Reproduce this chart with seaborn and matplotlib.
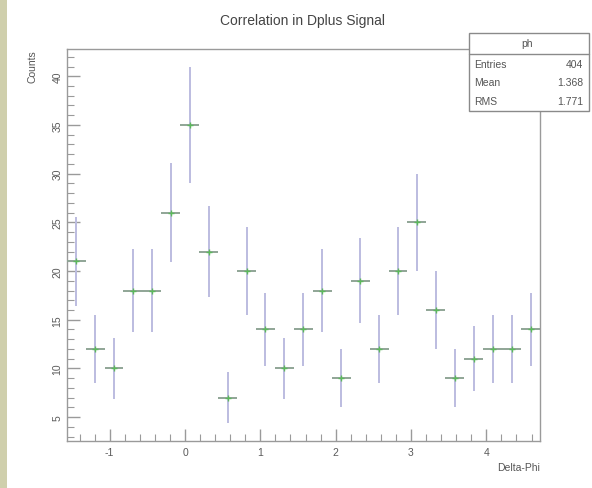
import numpy as np
import pandas as pd
import matplotlib
matplotlib.use("Agg")
import matplotlib.pyplot as plt
from matplotlib.patches import Rectangle
from matplotlib.ticker import MultipleLocator
import seaborn as sns

# ---- data ----
counts = [21, 12, 10, 18, 18, 26, 35, 22, 7, 20, 14, 10, 14,
          18, 9, 19, 12, 20, 25, 16, 9, 11, 12, 12, 14]
x_low, x_high = -np.pi / 2, 3 * np.pi / 2
title = "Correlation in Dplus Signal"
xlabel = "Delta-Phi"
ylabel = "Counts"
stat_name = "ph"
stat_rows = [("Entries", "404"), ("Mean", "1.368"), ("RMS", "1.771")]
x_ticks = [-1, 0, 1, 2, 3, 4]
y_ticks = [5, 10, 15, 20, 25, 30, 35, 40]

sns.set_style("white")
plt.rcParams['font.family'] = ['Liberation Sans Narrow', 'Liberation Sans', 'DejaVu Sans']

edges = np.linspace(x_low, x_high, len(counts) + 1)
centers = 0.5 * (edges[:-1] + edges[1:])
width = edges[1] - edges[0]
df = pd.DataFrame({"x": centers, "y": counts})
df["err"] = np.sqrt(df["y"])

W, H = 592, 489
fig = plt.figure(figsize=(W / 100, H / 100), dpi=100)
fig.patch.set_facecolor("white")
# left olive stripe
fig.patches.append(Rectangle((0, 0), 7 / W, 1, transform=fig.transFigure,
                             facecolor="#cfcfac", edgecolor="none", zorder=0))

L, R, T, B = 66.7, 540, 50, 442
ax = fig.add_axes([L / W, 1 - B / H, (R - L) / W, (B - T) / H])

# error bars
ax.vlines(df["x"], df["y"] - df["err"], df["y"] + df["err"],
          color="#bcbce0", lw=1.4, zorder=2)
ax.hlines(df["y"], df["x"] - width / 2, df["x"] + width / 2,
          color="#8fa596", lw=1.4, zorder=3)
sns.scatterplot(data=df, x="x", y="y", ax=ax, marker="+", s=16,
                color="#5cb85c", linewidth=1.0, zorder=4, legend=False)

ax.set_xlim(x_low, x_high)
ax.set_ylim(2.55, 42.8)
ax.set_xlabel("")
ax.set_ylabel("")

for sp in ax.spines.values():
    sp.set_color("#9a9a9a")
    sp.set_linewidth(1.0)

ax.xaxis.set_major_locator(MultipleLocator(1))
ax.xaxis.set_minor_locator(MultipleLocator(0.2))
ax.yaxis.set_major_locator(MultipleLocator(5))
ax.yaxis.set_minor_locator(MultipleLocator(1))
ax.set_xticks(x_ticks)
ax.set_yticks(y_ticks)
ax.tick_params(axis="both", which="major", direction="in", length=9,
               width=1.0, color="#9a9a9a", labelsize=7.5, labelcolor="#5a5a5a")
ax.tick_params(axis="both", which="minor", direction="in", length=5,
               width=0.8, color="#9a9a9a")
ax.tick_params(axis="x", which="both", bottom=True, top=False, pad=4)
ax.tick_params(axis="y", which="both", left=True, right=False, pad=3)
ax.set_xticklabels([str(v) for v in x_ticks])
ax.set_yticklabels([str(v) for v in y_ticks], rotation=90, va="center")

fig.text(302 / W, 1 - 21 / H, title, ha="center", va="center",
         fontsize=10, color="#444444")
fig.text(540 / W, 1 - 468 / H, xlabel, ha="right", va="center",
         fontsize=7.5, color="#555555")
fig.text(33 / W, 1 - 50 / H, ylabel, ha="center", va="top", rotation=90,
         fontsize=7.5, color="#555555")

# stat box
bx0, bx1, by0, by1, byh = 469, 589, 34, 112, 55
fig.patches.append(Rectangle((bx0 / W, 1 - by1 / H), (bx1 - bx0) / W,
                             (by1 - by0) / H, transform=fig.transFigure,
                             facecolor="white", edgecolor="#8a8a8a",
                             lw=1.0, zorder=5))
fig.add_artist(plt.Line2D([bx0 / W, bx1 / W], [1 - byh / H, 1 - byh / H],
                          transform=fig.transFigure, color="#8a8a8a",
                          lw=1.0, zorder=6))
fig.text(527 / W, 1 - 44 / H, stat_name, ha="center", va="center",
         fontsize=7.5, color="#555555", zorder=7)
for i, (k, v) in enumerate(stat_rows):
    yy = 1 - (65 + 18.5 * i) / H
    fig.text(474 / W, yy, k, ha="left", va="center", fontsize=7.5,
             color="#555555", zorder=7)
    fig.text(583 / W, yy, v, ha="right", va="center", fontsize=7.5,
             color="#555555", zorder=7)

fig.savefig("out.png", dpi=100)
